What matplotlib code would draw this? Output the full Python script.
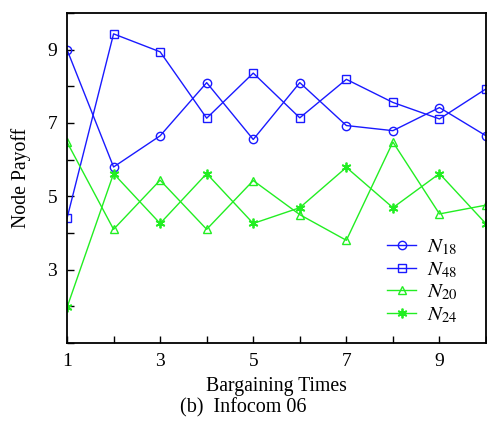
import numpy as np
import matplotlib
matplotlib.use('Agg')
import matplotlib.pyplot as plt
from matplotlib.ticker import MultipleLocator

plt.rcParams['font.family'] = ['Liberation Serif', 'DejaVu Serif']
plt.rcParams['mathtext.fontset'] = 'stix'

# == Data == #
times = [1, 2, 3, 4, 5, 6, 7, 8, 9, 10]
n18 = [9.0, 5.8, 6.65, 8.1, 6.55, 8.1, 6.93, 6.79, 7.42, 6.65]
n48 = [4.4, 9.43, 8.94, 7.13, 8.36, 7.14, 8.19, 7.56, 7.11, 7.93]
n20 = [6.48, 4.1, 5.44, 4.1, 5.43, 4.5, 3.8, 6.48, 4.52, 4.76]
n24 = [1.97, 5.62, 4.26, 5.62, 4.26, 4.69, 5.79, 4.69, 5.62, 4.25]
labels = [r'$N_{18}$', r'$N_{48}$', r'$N_{20}$', r'$N_{24}$']

blue = '#1a1aff'
green = '#22ee22'

fig = plt.figure(figsize=(4.87, 4.32), dpi=100)
ax = fig.add_axes([0.1376, 0.206, 0.8604, 0.764])

ax.plot(times, n18, '-', color=blue, lw=1, marker='o', ms=6, mfc='none', mew=1, label=labels[0])
ax.plot(times, n48, '-', color=blue, lw=1, marker='s', ms=5.5, mfc='none', mew=1, label=labels[1])
ax.plot(times, n20, '-', color=green, lw=1, marker='^', ms=6, mfc='none', mew=1, label=labels[2])
ax.plot(times, n24, '-', color=green, lw=1, marker=(6, 2, 0), ms=7, mew=1.3, label=labels[3])

ax.set_xlim(1, 10)
ax.set_ylim(1, 10)
ax.xaxis.set_minor_locator(MultipleLocator(1))
ax.yaxis.set_minor_locator(MultipleLocator(1))
ax.set_xticks([1, 3, 5, 7, 9])
ax.set_yticks([3, 5, 7, 9])
ax.tick_params(which='both', direction='in', length=5, width=1, labelsize=14)
ax.tick_params(axis='x', pad=7)
ax.tick_params(axis='y', pad=7)
for s in ax.spines.values():
    s.set_linewidth(1.3)

ax.set_xlabel('Bargaining Times', fontsize=14.2, labelpad=5)
ax.set_ylabel('Node Payoff', fontsize=14.2, labelpad=12)

ax.legend(loc='lower right', bbox_to_anchor=(0.976, -0.004), frameon=False,
          fontsize=15, handlelength=1.4, handletextpad=0.5, labelspacing=0.15)

fig.text(0.5, 0.056, '(b)  Infocom 06', ha='center', va='center', fontsize=14.5)

fig.savefig('out.png', dpi=100)
